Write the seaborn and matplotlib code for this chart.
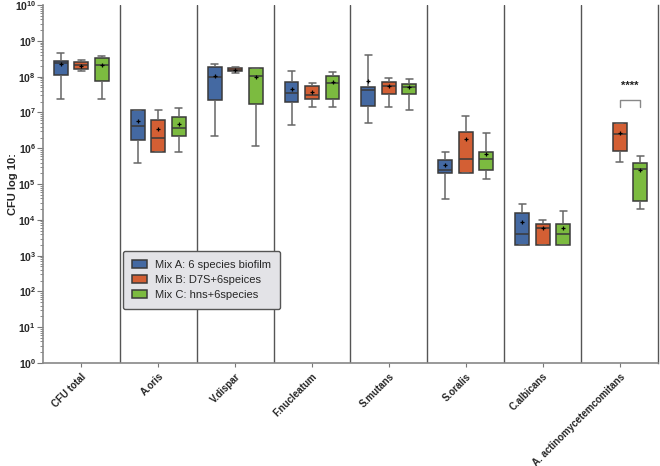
import numpy as np
import pandas as pd
import matplotlib
matplotlib.use("Agg")
import matplotlib.pyplot as plt
import seaborn as sns
from matplotlib.ticker import LogLocator, FixedFormatter, FixedLocator, NullFormatter

sns.set_style("white")
plt.rcParams['font.family'] = ['Liberation Sans', 'DejaVu Sans']
plt.rcParams['mathtext.fontset'] = 'custom'
plt.rcParams['mathtext.rm'] = 'Liberation Sans'
plt.rcParams['mathtext.bf'] = 'Liberation Sans:bold'

categories = ["CFU total", "A.oris", "V.dispar", "F.nucleatum", "S.mutans",
              "S.oralis", "C.albicans", "A. actinomycetemcomitans"]
mixes = ["Mix A: 6 species biofilm", "Mix B: D7S+6speices", "Mix C: hns+6species"]
colors = ["#3465b2", "#ee5319", "#7ccf2c"]

# log10 CFU: [min, Q1, median, Q3, max]
mix_a_stats = [
    [7.38, 8.06, 8.37, 8.44, 8.65],
    [5.59, 6.24, 6.61, 7.06, 7.06],
    [6.33, 7.35, 8.00, 8.28, 8.36],
    [6.65, 7.30, 7.54, 7.84, 8.16],
    [6.70, 7.19, 7.63, 7.72, 8.62],
    [4.59, 5.30, 5.38, 5.66, 5.89],
    [3.30, 3.30, 3.60, 4.18, 4.43],
    None,
]
mix_a_mean = [8.35, 6.75, 8.03, 7.67, 7.87, 5.52, 3.93, None]

mix_b_stats = [
    [8.16, 8.22, 8.32, 8.40, 8.48],
    [5.90, 5.90, 6.29, 6.78, 7.06],
    [8.11, 8.15, 8.19, 8.23, 8.28],
    [7.16, 7.37, 7.49, 7.75, 7.83],
    [7.16, 7.51, 7.73, 7.84, 7.97],
    [5.30, 5.32, 5.69, 6.45, 6.89],
    [3.30, 3.30, 3.76, 3.89, 3.99],
    [5.63, 5.93, 6.39, 6.70, 6.71],
]
mix_b_mean = [8.31, 6.54, 8.20, 7.56, 7.73, 6.26, 3.76, 6.44]

mix_c_stats = [
    [7.37, 7.89, 8.34, 8.52, 8.58],
    [5.89, 6.33, 6.58, 6.88, 7.13],
    [6.07, 7.23, 8.02, 8.23, 8.25],
    [7.16, 7.39, 7.82, 8.01, 8.13],
    [7.07, 7.51, 7.70, 7.80, 7.94],
    [5.13, 5.38, 5.69, 5.89, 6.43],
    [3.30, 3.30, 3.60, 3.89, 4.25],
    [4.29, 4.54, 5.43, 5.58, 5.79],
]
mix_c_mean = [8.32, 6.68, 7.98, 7.84, 7.70, 5.83, 3.76, 5.39]

y_tick_exponents = list(range(0, 11))

rows, mrows = [], []
for mix, stats, means in zip(mixes, [mix_a_stats, mix_b_stats, mix_c_stats],
                             [mix_a_mean, mix_b_mean, mix_c_mean]):
    for cat, s, m in zip(categories, stats, means):
        if s is None:
            continue
        for v in s:
            rows.append({"cat": cat, "mix": mix, "cfu": 10 ** v})
        mrows.append({"cat": cat, "mix": mix, "cfu": 10 ** m})
df = pd.DataFrame(rows)
dfm = pd.DataFrame(mrows)

fig = plt.figure(figsize=(6.6, 4.66), dpi=100)
ax = fig.add_axes([0.065, 0.221, 0.932, 0.768])

sns.boxplot(data=df, x="cat", y="cfu", hue="mix", order=categories, hue_order=mixes,
            palette=colors, whis=(0, 100), width=0.8, gap=0.32, linewidth=1.1,
            linecolor="#3a3a3a", showfliers=False, log_scale=True, ax=ax,
            whiskerprops=dict(color="#666666"), capprops=dict(color="#666666"))
sns.stripplot(data=dfm, x="cat", y="cfu", hue="mix", order=categories, hue_order=mixes,
              palette=["black"] * 3, dodge=True, jitter=False, marker="+", size=3.5,
              linewidth=0.9, legend=False, ax=ax)

ax.set_ylim(1, 1e10)
ax.set_xlim(-0.5, 7.5)
ax.yaxis.set_major_locator(FixedLocator([10.0 ** e for e in y_tick_exponents]))
ax.yaxis.set_major_formatter(FixedFormatter([r"$\mathbf{10^{%d}}$" % e for e in y_tick_exponents]))
ax.yaxis.set_minor_locator(LogLocator(base=10, subs=np.arange(2, 10), numticks=100))
ax.yaxis.set_minor_formatter(NullFormatter())
ax.tick_params(axis="y", which="major", direction="out", length=4, width=0.8,
               color="#777777", labelsize=7.5, pad=1, left=True)
ax.tick_params(axis="y", which="minor", direction="out", length=2, width=0.6,
               color="#777777", left=True)
ax.tick_params(axis="x", direction="out", length=3, width=0.8, color="#777777",
               bottom=True, pad=3)

ax.set_xticks(range(len(categories)))
ax.set_xticklabels(categories, rotation=45, ha="right", rotation_mode="anchor",
                   fontsize=7, fontweight="bold")
ax.set_xlabel("")
ax.set_ylabel("CFU log 10:", fontsize=8, fontweight="bold")
ax.yaxis.set_label_coords(-0.040, 0.5)

for sp in ["left", "bottom"]:
    ax.spines[sp].set_color("#888888")
    ax.spines[sp].set_linewidth(1.2)
ax.spines["top"].set_visible(False)
ax.spines["right"].set_color("#555555")
ax.spines["right"].set_linewidth(1)

for i in range(len(categories) - 1):
    ax.axvline(i + 0.5, color="#555555", lw=1, zorder=0)

# significance bracket
bx0, bx1 = 7.0, 7.267
ax.plot([bx0, bx0, bx1, bx1], [10 ** 7.15, 10 ** 7.34, 10 ** 7.34, 10 ** 7.15],
        color="#888888", lw=1)
ax.text((bx0 + bx1) / 2, 10 ** 7.74, "****", ha="center", va="center",
        fontsize=8, fontweight="bold", color="#222222")

handles, labels = ax.get_legend_handles_labels()
leg = ax.legend(handles[:3], labels[:3], loc="lower left", bbox_to_anchor=(0.130, 0.151),
                borderaxespad=0, fontsize=8, frameon=True, fancybox=True,
                facecolor="#e3e3e7", edgecolor="#555555", framealpha=1,
                handlelength=1.4, handleheight=0.7, borderpad=0.8,
                labelspacing=0.45, handletextpad=0.7)
leg.get_frame().set_linewidth(1)

fig.savefig("out.png", dpi=100)
